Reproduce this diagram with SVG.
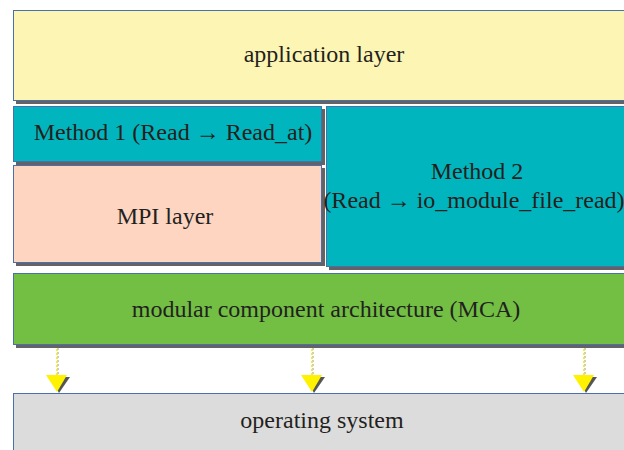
<svg xmlns="http://www.w3.org/2000/svg" width="624" height="450" viewBox="0 0 624 450">
<style>
.box{stroke:#4a6fae;stroke-width:1}
.sh{fill:#636363}
.t{font-family:'Liberation Serif','Times New Roman',Tinos,'DejaVu Serif',serif;font-size:24px;fill:#231f20;text-anchor:middle}
.dot{stroke:#f5e400;stroke-width:1.5;stroke-dasharray:2 2}
.dot2{stroke:#9a9a9a;stroke-width:1;stroke-dasharray:2 2}
.tri{fill:#fff200}
.trish{fill:#555}
</style>
<rect width="624" height="450" fill="#ffffff"/>
<g id="app">
<rect class="sh" x="16" y="13" width="620" height="91"/>
<rect class="box" x="13.5" y="10.5" width="620" height="90" fill="#fdf5b3"/>
<text class="t" x="324" y="62">application layer</text>
</g>
<g id="method1">
<rect class="sh" x="16" y="109" width="309" height="56"/>
<rect class="box" x="13.5" y="106.5" width="308" height="55" fill="#00b5bd"/>
<text class="t" x="173" y="140">Method 1 (Read → Read_at)</text>
</g>
<g id="mpi">
<rect class="sh" x="16" y="168" width="309" height="98"/>
<rect class="box" x="13.5" y="165.5" width="308" height="97" fill="#fdd5c0"/>
<text class="t" x="165" y="224">MPI layer</text>
</g>
<g id="method2">
<rect class="sh" x="329" y="109" width="310" height="161"/>
<rect class="box" x="326.5" y="106.5" width="310" height="160" fill="#00b5bd"/>
<text class="t" x="477" y="179">Method 2</text>
<text class="t" x="474" y="208" font-size="23.5">(Read → io_module_file_read)</text>
</g>
<g id="mca">
<rect class="sh" x="16" y="276" width="620" height="72"/>
<rect class="box" x="13.5" y="273.5" width="620" height="71" fill="#72bf44"/>
<text class="t" x="326" y="317">modular component architecture (MCA)</text>
</g>
<g id="os">
<rect class="box" x="13.5" y="393.5" width="620" height="70" fill="#dcdcdc"/>
<text class="t" x="322" y="428">operating system</text>
</g>
<g id="connectors">
<line class="dot2" x1="58" y1="348" x2="58" y2="375"/>
<line class="dot" x1="57" y1="349" x2="57" y2="375"/>
<polygon class="trish" points="50,377 70,377 59,393"/>
<polygon class="tri" points="46,375 67,375 57,392"/>
<line class="dot2" x1="313" y1="348" x2="313" y2="375"/>
<line class="dot" x1="312" y1="349" x2="312" y2="375"/>
<polygon class="trish" points="305,377 325,377 314,393"/>
<polygon class="tri" points="301,375 322,375 312,392"/>
<line class="dot2" x1="585" y1="348" x2="585" y2="375"/>
<line class="dot" x1="584" y1="349" x2="584" y2="375"/>
<polygon class="trish" points="577,377 597,377 586,393"/>
<polygon class="tri" points="573,375 594,375 584,392"/>
</g>
</svg>
